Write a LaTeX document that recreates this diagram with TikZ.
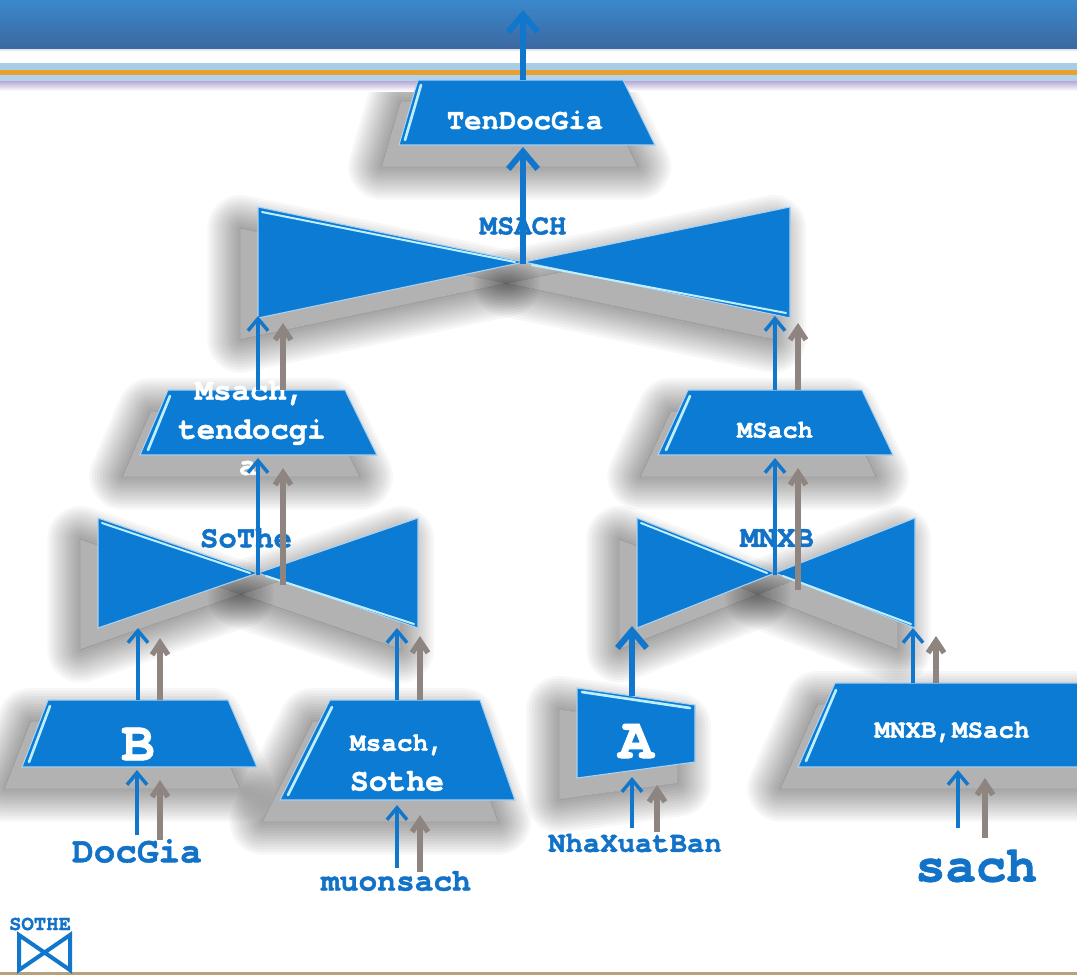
\documentclass[tikz,border=0pt]{standalone}
\usepackage{fontspec}
\newfontfamily\cour[BoldFeatures={FakeBold=1.4}]{TeX Gyre Cursor}
\usetikzlibrary{arrows.meta}
\definecolor{nblue}{HTML}{0B7BD3}
\definecolor{tblue}{HTML}{1272C8}
\definecolor{ablue}{HTML}{1177CC}
\definecolor{garrow}{HTML}{8E8480}
\definecolor{bnA}{HTML}{3A88CC}
\definecolor{bnB}{HTML}{4C9FD9}
\definecolor{bnC}{HTML}{3C68A0}
\definecolor{hl}{HTML}{BFEFFF}
\definecolor{stripA}{HTML}{AACDE6}
\definecolor{stripO}{HTML}{E8A030}
\definecolor{stripB}{HTML}{B4D3EA}
\definecolor{stripP}{HTML}{B7A8D6}
\definecolor{tanrule}{HTML}{B8A07A}
\tikzset{
  shp/.style={fill=nblue, draw=white!65!nblue, line width=0.8pt},
  shfill/.style={fill=black, fill opacity=0.3},
  shlayer/.style={draw=black, draw opacity=0.03, line join=round},
  hiline/.style={draw=hl, line width=2pt, line cap=round},
  wtxt/.style={text=white, font=\cour\bfseries, inner sep=0pt},
  btxt/.style={text=tblue, font=\cour\bfseries, inner sep=0pt},
  barrow/.style={draw=ablue, line width=2.6pt, -{Straight Barb[length=9pt,width=15pt]}},
  bigarrow/.style={draw=ablue, line width=4.5pt, -{Straight Barb[length=13pt,width=22pt]}},
  garrowst/.style={draw=garrow, line width=4pt, -{Straight Barb[length=9pt,width=12pt]}},
}
\newcommand\softsh[1]{%
  \begin{scope}[xshift=-13pt, yshift=-16pt]
    \path[shfill] #1;
    \begin{scope}[even odd rule]
      \clip (-300,-300) rectangle (1400,1300) #1;
      \foreach \w in {50,46,...,2}{\path[shlayer, line width=\w pt] #1;}
    \end{scope}
  \end{scope}}
\def\pTen{(418,80) -- (623,80) -- (655,145) -- (399,145) -- cycle}
\def\pBL{(258,207) -- (524,262) -- (258,318) -- cycle}
\def\pBR{(790,207) -- (524,262) -- (790,318) -- cycle}
\def\pLT{(168,390) -- (345,390) -- (377,455) -- (140,455) -- cycle}
\def\pRT{(688,390) -- (862,390) -- (893,455) -- (658,455) -- cycle}
\def\pSL{(98,518) -- (258,573) -- (98,628) -- cycle}
\def\pSR{(418,518) -- (258,573) -- (418,628) -- cycle}
\def\pML{(637,518) -- (775,573) -- (637,628) -- cycle}
\def\pMR{(915,518) -- (775,573) -- (915,628) -- cycle}
\def\pB{(48,700) -- (228,700) -- (257,767) -- (22,767) -- cycle}
\def\pMS{(330,700) -- (480,700) -- (515,800) -- (280,800) -- cycle}
\def\pA{(577,688) -- (695,705) -- (695,762) -- (577,778) -- cycle}
\def\pMM{(835,683) -- (1095,683) -- (1095,767) -- (798,767) -- cycle}
\begin{document}
\begin{tikzpicture}[x=0.75pt,y=-0.75pt]
\useasboundingbox (0,0) rectangle (1077,975);
\fill[white] (0,0) rectangle (1077,975);

% ---------- soft shadows ----------
\softsh{\pTen}
\softsh{\pBL} \softsh{\pBR}
\softsh{\pLT} \softsh{\pRT}
\softsh{\pSL} \softsh{\pSR}
\softsh{\pML} \softsh{\pMR}
\softsh{\pB} \softsh{\pMS} \softsh{\pA} \softsh{\pMM}

% banner
\shade[top color=bnA, middle color=bnB, bottom color=bnC] (0,0) rectangle (1077,49);
\fill[white!85!bnC] (0,49) rectangle (1077,51);
\fill[white] (0,51) rectangle (1077,63);
\fill[stripA] (0,63) rectangle (1077,70);
\fill[stripO] (0,70) rectangle (1077,75);
\fill[stripB] (0,75) rectangle (1077,81);
\shade[top color=stripP, bottom color=white] (0,81) rectangle (1077,91);
% bottom rule
\fill[tanrule] (0,972) rectangle (1077,975);

% ---------- shapes ----------
% TenDocGia
\path[shp] \pTen;
\draw[hiline] (421,85) -- (405,140);
\coordinate (tenT) at (523,80);
\coordinate (tenB) at (523,147);
\coordinate (sky) at (523,10);
\node[wtxt, font=\cour\bfseries\fontsize{21.7}{24}\selectfont] (tenTxt) at (525,120) {TenDocGia};

% big bowtie
\path[shp] \pBL;
\path[shp] \pBR;
\draw[hiline, line width=1.5pt] (262,212) -- (515,262);
\draw[hiline, line width=1.5pt] (532,265) -- (786,313);
\coordinate (bowC) at (523,264);
\coordinate (bowL) at (258,316);
\coordinate (bowR) at (775,316);
\node[btxt, font=\cour\bfseries\fontsize{21.7}{24}\selectfont] (msachL) at (523,226) {MSACH};

% left trapezoid
\path[shp] \pLT;
\draw[hiline] (170,396) -- (148,450);
\coordinate (ltT) at (258,390);
\coordinate (ltB) at (258,458);
\node[wtxt, font=\cour\bfseries\fontsize{23}{38}\selectfont] (ltTxt) at (252,432) {tendocgi};
\node[wtxt, font=\cour\bfseries\fontsize{23}{38}\selectfont] (ltTxt1) at (250,393) {Msach,};
\node[wtxt, font=\cour\bfseries\fontsize{23}{38}\selectfont] (ltTxt2) at (248,468) {a};

% right trapezoid
\path[shp] \pRT;
\draw[hiline] (690,396) -- (666,450);
\coordinate (rtT) at (775,390);
\coordinate (rtB) at (775,458);
\node[wtxt, font=\cour\bfseries\fontsize{19}{22}\selectfont] (rtTxt) at (775,430) {MSach};

% left bowtie
\path[shp] \pSL;
\path[shp] \pSR;
\draw[hiline, line width=1.5pt] (102,523) -- (250,573);
\draw[hiline, line width=1.5pt] (266,576) -- (414,624);
\coordinate (lbC) at (258,575);
\coordinate (lbL) at (138,628);
\coordinate (lbR) at (397,628);
\node[btxt, font=\cour\bfseries\fontsize{23}{26}\selectfont] (sotheL) at (246,538) {SoThe};

% right bowtie
\path[shp] \pML;
\path[shp] \pMR;
\draw[hiline, line width=1.5pt] (641,523) -- (767,573);
\draw[hiline, line width=1.5pt] (783,576) -- (911,624);
\coordinate (rbC) at (775,575);
\coordinate (rbL) at (632,626);
\coordinate (rbR) at (913,628);
\node[btxt, font=\cour\bfseries\fontsize{23}{26}\selectfont] (mnxbL) at (777,538) {MNXB};

% B
\path[shp] \pB;
\draw[hiline] (50,706) -- (29,762);
\coordinate (bT) at (138,700);
\coordinate (bB) at (137,770);
\node[wtxt, font=\cour\bfseries\fontsize{42}{44}\selectfont] (bTxt) at (138,744) {B};

% Msach, Sothe
\path[shp] \pMS;
\draw[hiline] (332,707) -- (288,795);
\coordinate (msT) at (397,700);
\coordinate (msB) at (397,805);
\node[wtxt, font=\cour\bfseries\fontsize{19.6}{22}\selectfont] (msTxt1) at (397,745) {Msach,};
\node[wtxt, font=\cour\bfseries\fontsize{23.5}{26}\selectfont] (msTxt2) at (397,781) {Sothe};

% A
\path[shp] \pA;
\draw[hiline] (582,692) -- (690,708);
\coordinate (aT) at (632,696);
\coordinate (aB) at (632,777);
\node[wtxt, font=\cour\bfseries\fontsize{44}{46}\selectfont] (aTxt) at (636,741) {A};

% MNXB,MSach
\path[shp] \pMM;
\draw[hiline] (836,690) -- (806,761);
\coordinate (mmT) at (913,683);
\coordinate (mmB) at (958,770);
\node[wtxt, font=\cour\bfseries\fontsize{19.4}{22}\selectfont] (mmTxt) at (952,732) {MNXB,MSach};

% ---------- bottom labels ----------
\node[btxt, font=\cour\bfseries\fontsize{27}{30}\selectfont] (docgia) at (137,851) {DocGia};
\node[btxt, font=\cour\bfseries\fontsize{23.4}{26}\selectfont] (muon) at (396,881) {muonsach};
\node[btxt, font=\cour\bfseries\fontsize{21.7}{24}\selectfont] (nxb) at (635,843) {NhaXuatBan};
\node[btxt, font=\cour\bfseries\fontsize{38}{40}\selectfont] (sach) at (976,866) {sach};
\coordinate (docT) at (137,835);
\coordinate (muonT) at (397,868);
\coordinate (nxbT) at (632,828);
\coordinate (sachT) at (958,828);

% ---------- arrows ----------
% grey shadow arrows
\coordinate (g1a) at (283,390); \coordinate (g1b) at (283,323);
\coordinate (g2a) at (798,390); \coordinate (g2b) at (798,323);
\coordinate (g3a) at (283,585); \coordinate (g3b) at (283,468);
\coordinate (g4a) at (798,590); \coordinate (g4b) at (798,468);
\coordinate (g5a) at (160,700); \coordinate (g5b) at (160,638);
\coordinate (g6a) at (420,700); \coordinate (g6b) at (420,636);
\coordinate (g7a) at (936,683); \coordinate (g7b) at (936,636);
\coordinate (g8a) at (160,840); \coordinate (g8b) at (160,780);
\coordinate (g9a) at (420,872); \coordinate (g9b) at (420,815);
\coordinate (g10a) at (657,832); \coordinate (g10b) at (657,785);
\coordinate (g11a) at (985,838); \coordinate (g11b) at (985,778);
\foreach \i in {1,...,11} \draw[garrowst] (g\i a) -- (g\i b);

\draw[bigarrow] (tenT) -- (sky);
\draw[bigarrow] (bowC) -- (tenB);
\draw[barrow] (ltT) -- (bowL);
\draw[barrow] (rtT) -- (bowR);
\draw[barrow] (lbC) -- (ltB);
\draw[barrow] (rbC) -- (rtB);
\draw[barrow] (bT) -- (lbL);
\draw[barrow] (msT) -- (lbR);
\draw[bigarrow] (aT) -- (rbL);
\draw[barrow] (mmT) -- (rbR);
\draw[barrow] (docT) -- (bB);
\draw[barrow] (muonT) -- (msB);
\draw[barrow] (nxbT) -- (aB);
\draw[barrow] (sachT) -- (mmB);

% legend
\node[btxt, font=\cour\bfseries\fontsize{15.5}{17}\selectfont] (legTxt) at (40,924) {SOTHE};
\coordinate (lg1) at (19,935); \coordinate (lg2) at (70,970);
\coordinate (lg3) at (70,935); \coordinate (lg4) at (19,970);
\draw[draw=ablue, line width=3pt, line join=miter] (lg1) -- (lg2) -- (lg3) -- (lg4) -- cycle;
\end{tikzpicture}
\end{document}
